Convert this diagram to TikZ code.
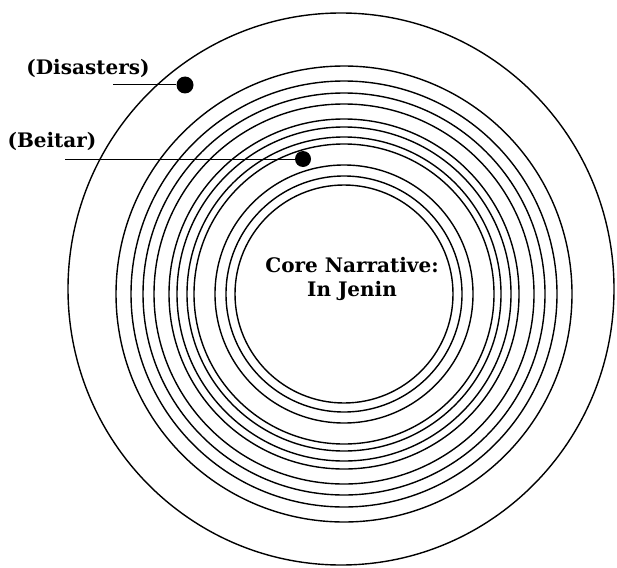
\documentclass[tikz,border=0pt]{standalone}
\usepackage{fontspec}
\setmainfont{DejaVu Serif}
\usepackage{tikz}
\tikzset{
  ring/.style={draw=black, line width=1.4pt},
  dotmark/.style={circle, fill=black, inner sep=0pt, minimum size=17pt},
  lbl/.style={font=\fontsize{20}{24}\selectfont\bfseries, inner sep=0pt},
  corelbl/.style={font=\fontsize{20}{24}\selectfont\bfseries, align=center, inner sep=0pt},
  leader/.style={draw=black, line width=1pt}
}
\begin{document}
\begin{tikzpicture}[x=1pt,y=-1pt]
\useasboundingbox (0,0) rectangle (617,567);
% outer circle
\draw[ring] (341,289) ellipse [x radius=273, y radius=276];
% inner rings
\foreach \r in {109,118,129,150,157,167,175,190,201,213,228}{
  \draw[ring] (344,294) circle [radius=\r];
}
% core text
\node[corelbl] (core) at (352,279) {Core Narrative:\\In Jenin};
% Disasters
\node[lbl] (dis) at (88,68) {(Disasters)};
\node[dotmark] (ddot) at (185,85) {};
\coordinate (dstart) at (113,85);
\draw[leader] (dstart) -- (ddot);
% Beitar
\node[lbl] (bei) at (52,141) {(Beitar)};
\node[dotmark, minimum size=16pt] (bdot) at (303,159) {};
\coordinate (bstart) at (65,159);
\draw[leader] (bstart) -- (bdot);
\end{tikzpicture}
\end{document}
